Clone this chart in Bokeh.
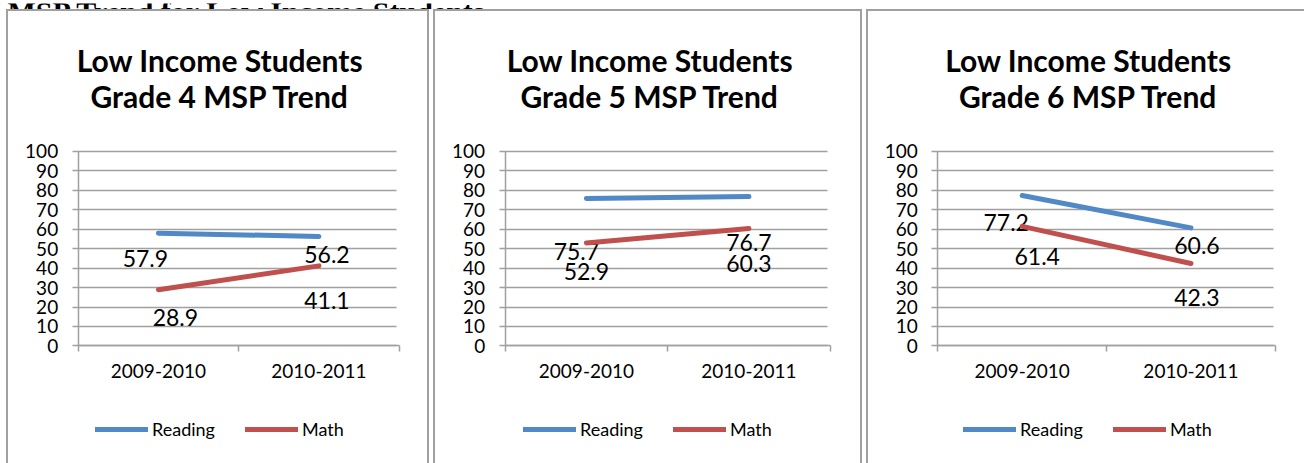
from bokeh.plotting import figure
from bokeh.models import (ColumnDataSource, FixedTicker, Legend, LegendItem,
                          Range1d, Label)
from bokeh.layouts import row, column
from bokeh.core.properties import value
from bokeh.embed import file_html
from bokeh.resources import INLINE

# ---------------- data ----------------
page_title = "MSP Trend for Low Income Students"
chart_title = "Low Income Students"
years = ["2009-2010", "2010-2011"]
grades = ["Grade 4", "Grade 5", "Grade 6"]
series_names = ["Reading", "Math"]
reading_g4 = [57.9, 56.2]
math_g4 = [28.9, 41.1]
reading_g5 = [75.7, 76.7]
math_g5 = [52.9, 60.3]
reading_g6 = [77.2, 60.6]
math_g6 = [61.4, 42.3]
y_ticks = [0, 10, 20, 30, 40, 50, 60, 70, 80, 90, 100]

# ---------------- layout / style ----------------
BLUE = "#5089C6"
RED = "#C0504D"
GRID = "#A0A0A0"
FONT = "Lato"
BORDER = "2px solid #A0A0A0"
CANVAS_H = 452                  # inner panel height (px)
PLOT_TOP = 139                  # px from canvas top to value 100
PLOT_H = 194                    # px between value 0 and value 100
AXIS_LEFT = 69                  # px from canvas left to y axis
panel_canvas_w = [419, 425, 436]
panel_plot_w = [318, 322, 336]
panel_left_margin = [6, 4, 4]
legend_x = [87, 88, 95]         # px from canvas left
legend_y = 25                   # px from canvas bottom to legend bottom
title_y = [406, 370]            # px from canvas bottom to title line centres
# data label offsets in px (dx, dy-down) per panel, per series, per point
label_offsets = [
    {"Reading": [(-13, 25), (8, 18)], "Math": [(17, 28), (8, 35)]},
    {"Reading": [(-10, 53), (0, 46)], "Math": [(0, 29), (0, 35)]},
    {"Reading": [(-16, 27), (6, 18)], "Math": [(15, 30), (6, 34)]},
]


def make_panel(i, grade, reading, math):
    cw = panel_canvas_w[i]
    pw = panel_plot_w[i]
    n = len(years)
    px_x = pw / n                     # px per category
    px_y = PLOT_H / 100.0             # px per value unit
    right_pad = cw - AXIS_LEFT - pw
    x_range = Range1d(-AXIS_LEFT / px_x, n + right_pad / px_x)
    y_range = Range1d(-(CANVAS_H - PLOT_TOP - PLOT_H) / px_y, 100 + PLOT_TOP / px_y)

    styles = {"border-top": BORDER, "border-left": BORDER}
    if i < 2:
        styles["border-right"] = BORDER
    p = figure(frame_width=cw, frame_height=CANVAS_H,
               x_range=x_range, y_range=y_range,
               output_backend="svg", toolbar_location=None, min_border=0,
               margin=(0, 0, 0, panel_left_margin[i]), styles=styles)
    p.outline_line_color = None
    p.grid.visible = False

    # titles (two centred lines)
    for k, txt in enumerate([chart_title, f"{grade} MSP Trend"]):
        p.add_layout(Label(x=cw / 2 + 2, y=title_y[k], x_units="screen", y_units="screen",
                           text=txt, text_font=FONT, text_font_size="30px",
                           text_font_style="bold", text_color="black",
                           text_align="center", text_baseline="middle"))

    xs = [k + 0.5 for k in range(n)]

    ya = p.yaxis[0]
    ya.fixed_location = 0
    ya.bounds = (0, 100)
    ya.level = "underlay"
    ya.ticker = FixedTicker(ticks=y_ticks, minor_ticks=[])
    ya.axis_line_color = GRID
    ya.axis_line_width = 1.5
    ya.major_tick_line_color = GRID       # ticks drawn across = gridlines
    ya.major_tick_line_width = 1.5
    ya.major_tick_out = 6
    ya.major_tick_in = pw
    ya.minor_tick_line_color = None
    ya.major_label_text_font = FONT
    ya.major_label_text_font_size = "19px"
    ya.major_label_text_color = "black"
    ya.major_label_standoff = 14

    xa = p.xaxis[0]
    xa.fixed_location = 0
    xa.bounds = (0, n)
    xa.level = "underlay"
    xa.ticker = FixedTicker(ticks=xs, minor_ticks=list(range(n + 1)))
    xa.major_label_overrides = {x: y for x, y in zip(xs, years)}
    xa.axis_line_color = GRID
    xa.axis_line_width = 1.5
    xa.major_tick_line_color = None
    xa.minor_tick_line_color = GRID
    xa.minor_tick_line_width = 1.5
    xa.minor_tick_out = 6
    xa.minor_tick_in = 0
    xa.major_label_text_font = FONT
    xa.major_label_text_font_size = "19px"
    xa.major_label_text_color = "black"
    xa.major_label_standoff = 12

    items = []
    for name, vals, color in [("Reading", reading, BLUE), ("Math", math, RED)]:
        offs = label_offsets[i][name]
        src = ColumnDataSource(dict(
            x=xs, y=vals, label=[f"{v:.1f}" for v in vals],
            dx=[o[0] for o in offs], dy=[o[1] for o in offs]))
        r = p.line("x", "y", source=src, line_color=color, line_width=5,
                   line_cap="round")
        p.text("x", "y", text="label", source=src, x_offset="dx", y_offset="dy",
               text_font=value(FONT), text_font_size="23px", text_color="black",
               text_align="center", text_baseline="middle")
        items.append(LegendItem(label=name, renderers=[r]))

    leg = Legend(items=items, orientation="horizontal",
                 location=(legend_x[i], legend_y), margin=0, padding=0,
                 spacing=18, label_width=75, glyph_width=53, glyph_height=22,
                 label_standoff=4, label_text_font=FONT,
                 label_text_font_size="18px", label_text_color="black",
                 border_line_color=None, background_fill_alpha=0)
    p.add_layout(leg, "center")
    return p


panels = [
    make_panel(0, grades[0], reading_g4, math_g4),
    make_panel(1, grades[1], reading_g5, math_g5),
    make_panel(2, grades[2], reading_g6, math_g6),
]

head = figure(frame_width=1304, frame_height=9, x_range=Range1d(0, 1304),
              y_range=Range1d(0, 9), output_backend="svg",
              toolbar_location=None, min_border=0, margin=(0, 0, 0, 0))
head.axis.visible = False
head.grid.visible = False
head.outline_line_color = None
head.add_layout(Label(x=7, y=1, text=page_title, text_font="Liberation Serif",
                      text_font_size="30px", text_font_style="bold",
                      text_color="black", text_baseline="alphabetic"))

layout = column(head, row(*panels, spacing=0), spacing=0)

with open("out.html", "w") as f:
    f.write(file_html(layout, INLINE))
